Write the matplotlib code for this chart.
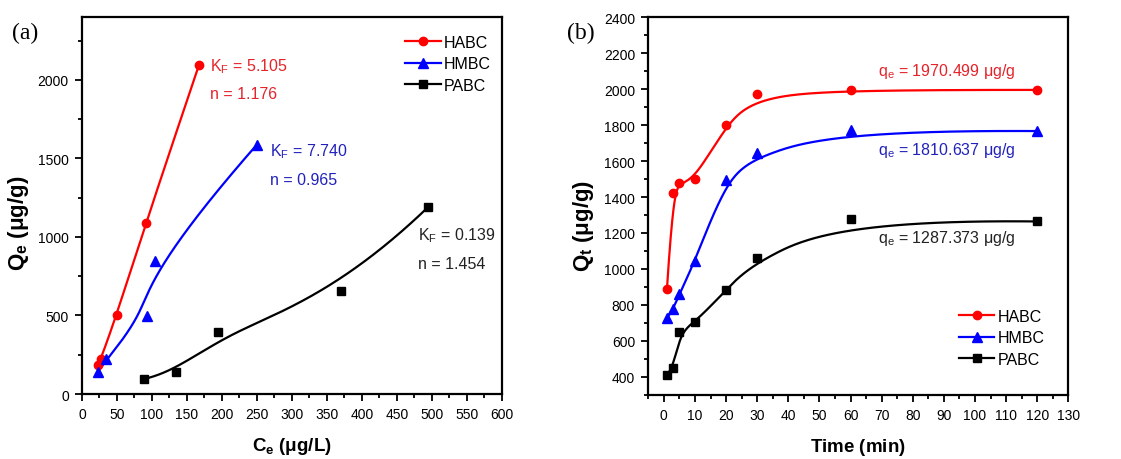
import numpy as np
import matplotlib
matplotlib.use("Agg")
import matplotlib.pyplot as plt
from matplotlib.ticker import MultipleLocator

plt.rcParams['font.family'] = ['Liberation Sans', 'DejaVu Sans']
plt.rcParams['mathtext.fontset'] = 'custom'
plt.rcParams['mathtext.rm'] = 'Liberation Sans'
plt.rcParams['mathtext.it'] = 'Liberation Sans'
plt.rcParams['mathtext.bf'] = 'Liberation Sans:bold'
plt.rcParams['mathtext.default'] = 'regular'

# ---------------- data: panel (a) isotherm ----------------
series_names = ['HABC', 'HMBC', 'PABC']
a_habc_ce = [23, 27, 50, 91, 167]
a_habc_qe = [187, 223, 500, 1090, 2092]
a_hmbc_ce = [23, 35, 93, 104, 250]
a_hmbc_qe = [142, 223, 499, 845, 1588]
a_pabc_ce = [89, 135, 195, 370, 495]
a_pabc_qe = [96, 143, 395, 656, 1192]
a_kf = ['5.105', '7.740', '0.139']
a_n = ['1.176', '0.965', '1.454']

# ---------------- data: panel (b) kinetics ----------------
b_time = [1, 3, 5, 10, 20, 30, 60, 120]
b_habc = [888, 1422, 1477, 1500, 1801, 1975, 1996, 1996]
b_hmbc = [725, 777, 860, 1042, 1495, 1643, 1773, 1767]
b_pabc = [409, 448, 650, 702, 882, 1062, 1275, 1264]
b_qe = ['1970.499', '1810.637', '1287.373']

colors = ['#ff0000', '#0000ff', '#000000']
text_colors = ['#e3242b', '#2222bb', '#222222']
markers = ['o', '^', 's']
msizes = [6, 6.5, 6]


def bspline(px, py, k=3, num=400):
    """Clamped uniform cubic B-spline with the data points as control points
    (the 'B-Spline' line connection of the original plotting program)."""
    px = np.asarray(px, float)
    py = np.asarray(py, float)
    n = len(px)
    k = min(k, n - 1)
    t = np.concatenate([np.zeros(k), np.linspace(0, 1, n - k + 1), np.ones(k)])
    u = np.linspace(0, 1, num)
    m = len(t)
    N = np.zeros((num, m - 1))
    for i in range(m - 1):
        N[:, i] = (t[i] <= u) & (u < t[i + 1])
    N[-1, :] = 0
    N[-1, n - 1] = 1
    for dd in range(1, k + 1):
        Nn = np.zeros((num, m - 1 - dd))
        for i in range(m - 1 - dd):
            den1 = t[i + dd] - t[i]
            den2 = t[i + dd + 1] - t[i + 1]
            a = (u - t[i]) / den1 if den1 > 0 else 0
            b = (t[i + dd + 1] - u) / den2 if den2 > 0 else 0
            Nn[:, i] = a * N[:, i] + b * N[:, i + 1]
        N = Nn
    return N @ px, N @ py


fig = plt.figure(figsize=(11.21, 4.60), dpi=100)
ax1 = fig.add_axes([0.0731, 0.1413, 0.3747, 0.8196])
ax2 = fig.add_axes([0.5783, 0.1398, 0.3747, 0.8204])


def style_axes(ax):
    for s in ax.spines.values():
        s.set_linewidth(1.6)
    ax.tick_params(which='both', direction='out', top=False, right=False,
                   labelsize=10, width=1.3, pad=4.5)
    ax.tick_params(which='major', length=5)
    ax.tick_params(which='minor', length=3)


# ---------------- panel (a) ----------------
a_x = [a_habc_ce, a_hmbc_ce, a_pabc_ce]
a_y = [a_habc_qe, a_hmbc_qe, a_pabc_qe]
for xs, ys, c, mk, ms, name in zip(a_x, a_y, colors, markers, msizes, series_names):
    cx, cy = bspline(xs, ys)
    ax1.plot(cx, cy, color=c, lw=1.6, zorder=2)
    ax1.plot(xs, ys, ls='none', marker=mk, color=c, ms=ms, zorder=3)
    ax1.plot([], [], color=c, lw=1.6, marker=mk, ms=ms, label=name)

ax1.set_xlim(0, 600)
ax1.set_ylim(0, 2400)
ax1.xaxis.set_major_locator(MultipleLocator(50))
ax1.xaxis.set_minor_locator(MultipleLocator(25))
ax1.set_yticks([0, 500, 1000, 1500, 2000])
ax1.yaxis.set_minor_locator(MultipleLocator(250))
style_axes(ax1)
ax1.set_xlabel(r'$\mathbf{C_e}$ $\mathbf{(\mu g/L)}$', fontsize=13.5, labelpad=10)
ax1.set_ylabel(r'$\mathbf{Q_e}$ $\mathbf{(\mu g/g)}$', fontsize=16)
ax1.yaxis.set_label_coords(-0.122, 0.456)

a_text_pos = [(183, 2091, 1915), (268, 1546, 1363), (480, 1013, 828)]
for (x, y1, y2), kf, nn, tc in zip(a_text_pos, a_kf, a_n, text_colors):
    ax1.text(x, y1, 'K$_F$ = ' + kf, color=tc, fontsize=11.5, va='center', ha='left')
    ax1.text(x, y2, 'n = ' + nn, color=tc, fontsize=11.5, va='center', ha='left')

leg1 = ax1.legend(loc='upper right', frameon=False, fontsize=11.5, numpoints=1,
                  handlelength=2.2, handletextpad=0.2, labelspacing=0.4,
                  bbox_to_anchor=(1.0, 0.982), borderaxespad=0.3)

fig.text(0.0107, 0.928, '(a)', family='Liberation Serif', fontsize=17, va='center', ha='left')

# ---------------- panel (b) ----------------
b_y = [b_habc, b_hmbc, b_pabc]
for ys, c, mk, ms, name in zip(b_y, colors, markers, msizes, series_names):
    cx, cy = bspline(b_time, ys)
    ax2.plot(cx, cy, color=c, lw=1.6, zorder=2)
    ax2.plot(b_time, ys, ls='none', marker=mk, color=c, ms=ms, zorder=3)
    ax2.plot([], [], color=c, lw=1.6, marker=mk, ms=ms, label=name)

ax2.set_xlim(-5, 130)
ax2.set_ylim(300, 2400)
ax2.xaxis.set_minor_locator(MultipleLocator(5))
ax2.set_xticks(np.arange(0, 131, 10))
ax2.set_yticks(np.arange(400, 2401, 200))
ax2.yaxis.set_minor_locator(MultipleLocator(100))
style_axes(ax2)
ax2.set_xlabel(r'$\mathbf{Time\ (min)}$', fontsize=13.5, labelpad=10)
ax2.set_ylabel(r'$\mathbf{Q_t}$ $\mathbf{(\mu g/g)}$', fontsize=16)
ax2.yaxis.set_label_coords(-0.125, 0.45)

b_text_y = [2103, 1667, 1175]
for y, q, tc in zip(b_text_y, b_qe, text_colors):
    ax2.text(68.8, y, 'q$_e$ = ' + q + ' μg/g', color=tc, fontsize=11.5, va='center', ha='left')

leg2 = ax2.legend(loc='lower right', frameon=False, fontsize=11.5, numpoints=1,
                  handlelength=2.2, handletextpad=0.2, labelspacing=0.4,
                  bbox_to_anchor=(0.97, 0.045), borderaxespad=0.3)

fig.text(0.506, 0.928, '(b)', family='Liberation Serif', fontsize=17, va='center', ha='left')

fig.savefig('out.png', dpi=100)
